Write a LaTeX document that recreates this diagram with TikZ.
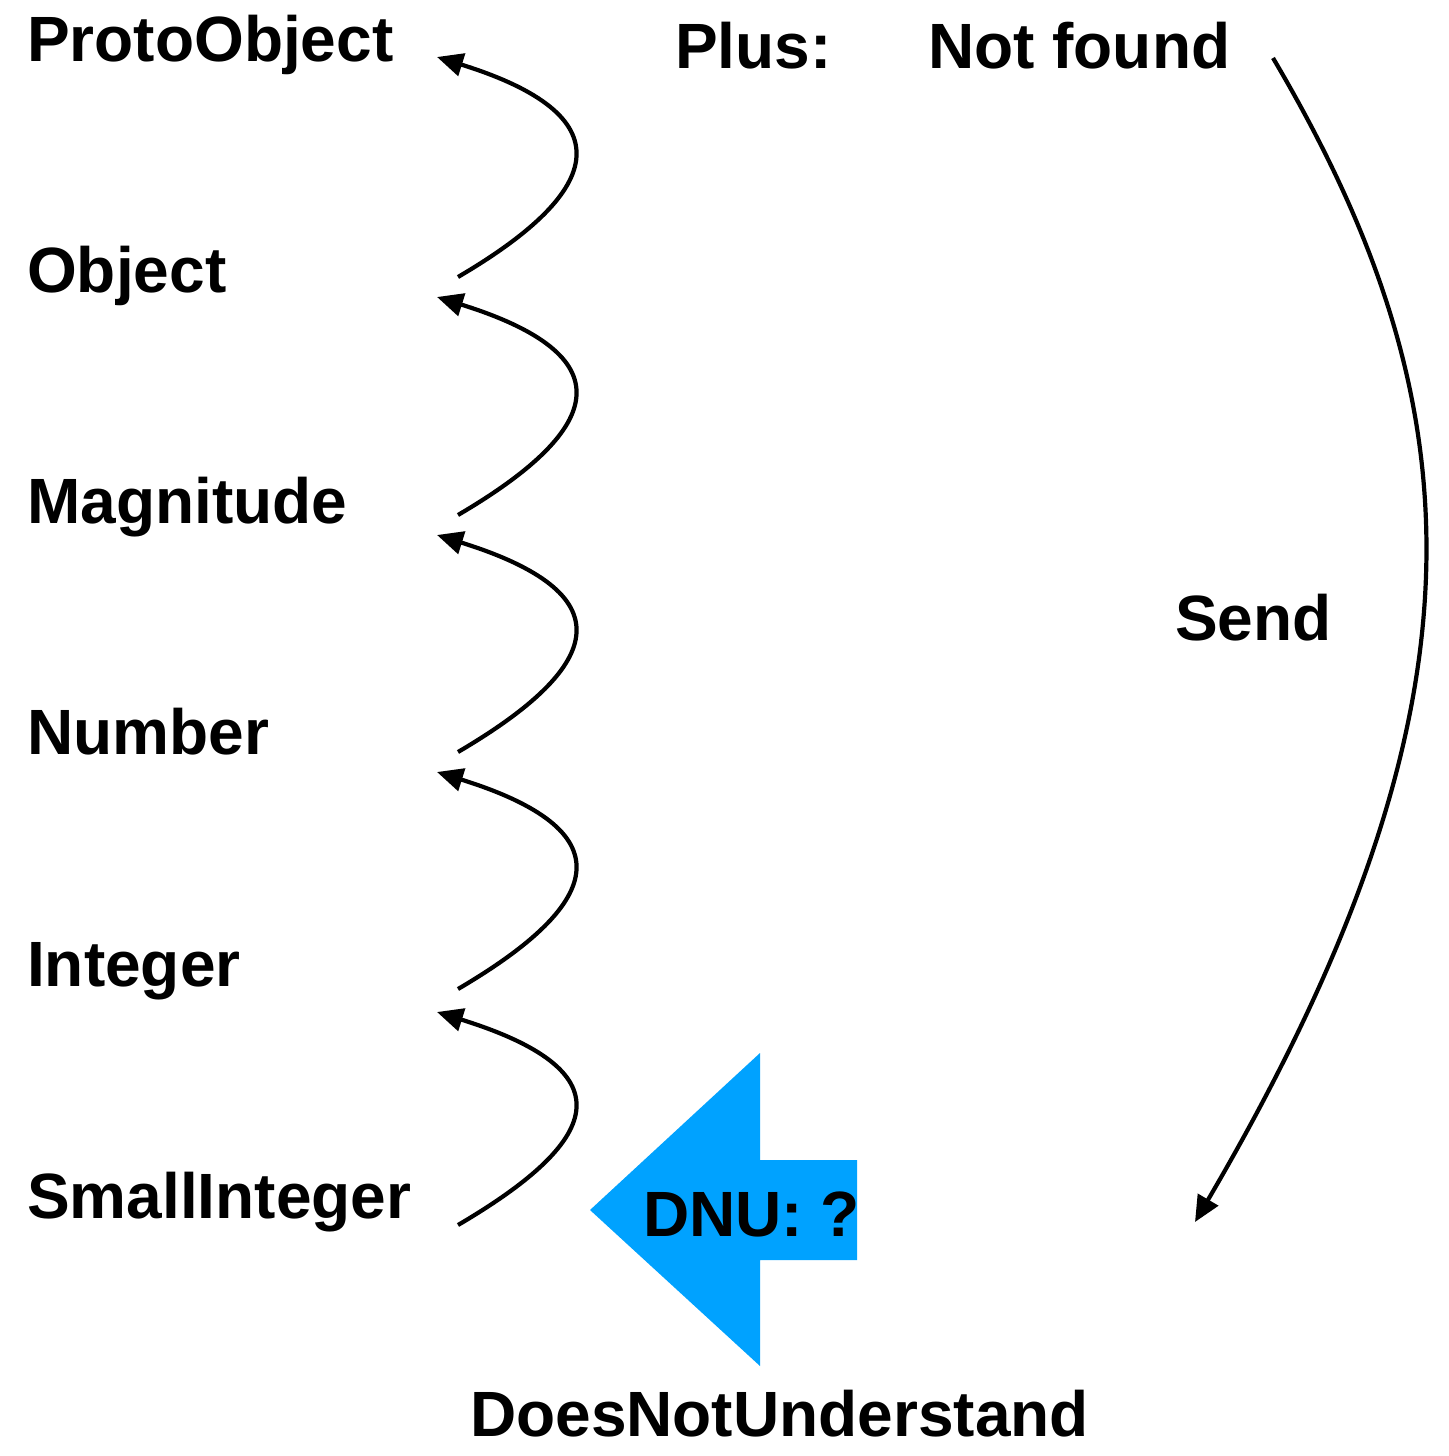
\documentclass[tikz,border=0pt]{standalone}
\usepackage{fontspec}
\setmainfont{Liberation Sans}
\usetikzlibrary{arrows.meta,calc}
\definecolor{dnublue}{RGB}{0,162,255}
\tikzset{
  lbl/.style={anchor=base west,inner sep=0pt,font=\fontsize{64}{70}\selectfont\bfseries},
  link/.style={line width=4.2pt,-{Triangle[length=26pt,width=23pt]}},
}
\begin{document}
\begin{tikzpicture}[x=1pt,y=-1pt]
\useasboundingbox (0,0) rectangle (1448,1456);
\node[lbl] (proto) at (27,61) {ProtoObject};
\node[lbl] (object) at (27,292) {Object};
\node[lbl] (magn) at (27,523) {Magnitude};
\node[lbl] (number) at (27,754) {Number};
\node[lbl] (integer) at (27,986) {Integer};
\node[lbl] (small) at (27,1218) {SmallInteger};
\node[lbl] (plus) at (675,68) {Plus:};
\node[lbl] (notfound) at (928,68) {Not found};
\node[lbl] (send) at (1175,640) {Send};
\node[lbl] (dnl) at (470,1436) {DoesNotUnderstand};
% up arrows
\foreach \i/\s/\t in {1/277/57, 2/515/297, 3/752/535, 4/989/772, 5/1225/1012}{
  \coordinate (s\i) at (458,\s);
  \coordinate (t\i) at (437,\t);
  \draw[link] (s\i) .. controls ($(s\i)+(150,-88)$) and ($(t\i)+(186,58)$) .. (t\i);
}
% send arc
\coordinate (sendA) at (1273,58);
\coordinate (sendB) at (1195,1222);
\draw[link] (sendA) .. controls (1478,405) and (1498,705) .. (sendB);
% blue arrow
\fill[dnublue] (590,1210) -- (760,1053) -- (760,1160) -- (857,1160) -- (857,1260) -- (760,1260) -- (760,1366) -- cycle;
\node[lbl] (dnu) at (643,1236) {DNU: ?};
\end{tikzpicture}
\end{document}
